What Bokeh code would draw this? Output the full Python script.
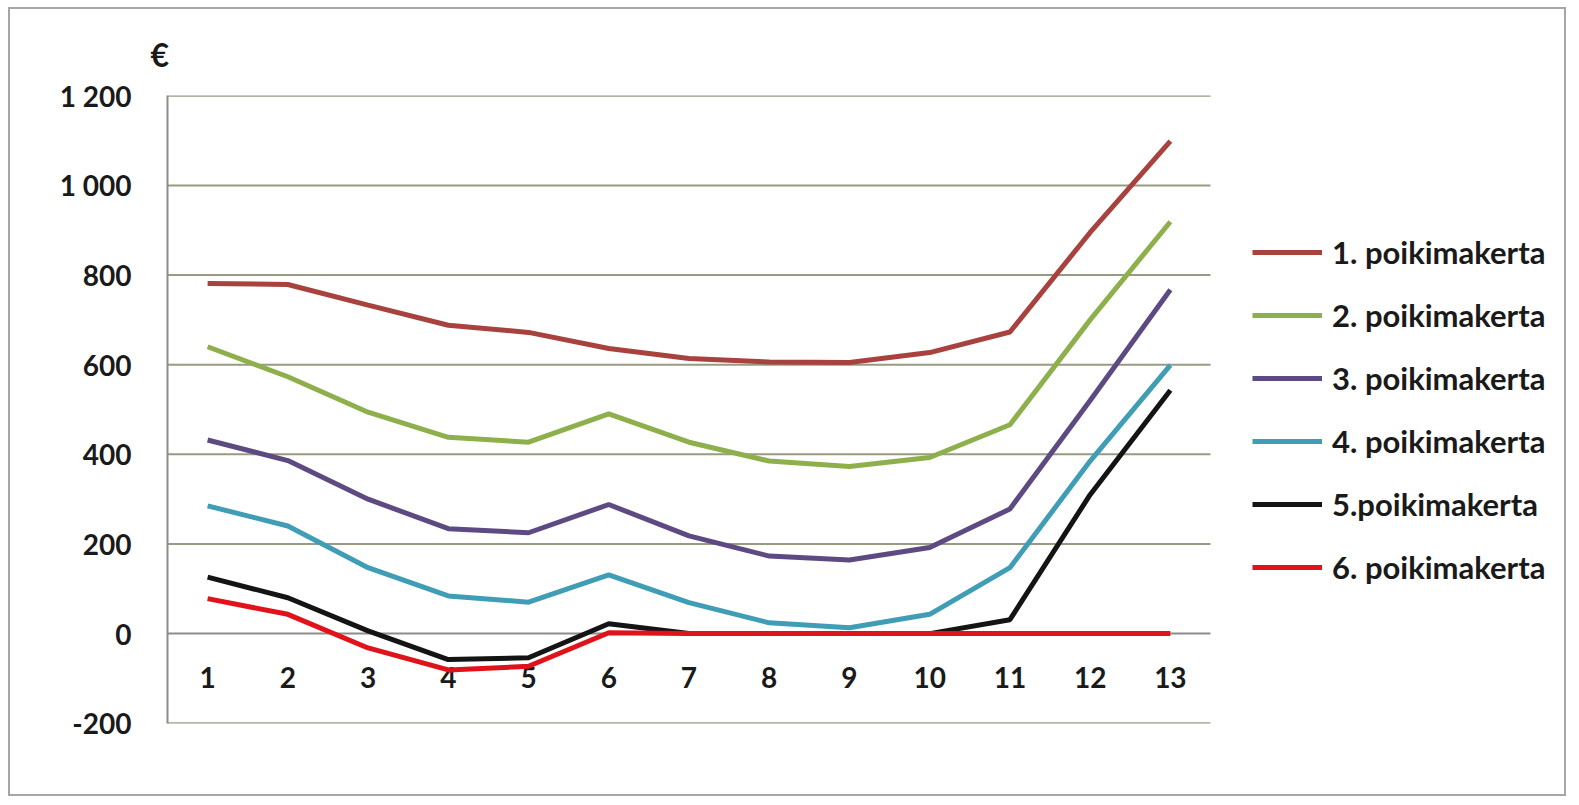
from bokeh.plotting import figure
from bokeh.models import Range1d, FixedTicker, Legend, LegendItem
from bokeh.embed import file_html
from bokeh.resources import INLINE

x = list(range(1, 14))
x_labels = [str(i) for i in x]
y_ticks = [-200, 0, 200, 400, 600, 800, 1000, 1200]
y_tick_labels = ["-200", "0", "200", "400", "600", "800", "1 000", "1 200"]

names = ["1. poikimakerta", "2. poikimakerta", "3. poikimakerta",
         "4. poikimakerta", "5.poikimakerta", "6. poikimakerta"]
s1 = [781, 779, 733, 688, 672, 636, 614, 606, 605, 627, 673, 895, 1099]
s2 = [640, 573, 494, 438, 427, 490, 427, 385, 373, 393, 466, 700, 919]
s3 = [432, 386, 300, 234, 225, 288, 218, 173, 164, 192, 278, 520, 767]
s4 = [285, 240, 147, 84, 70, 131, 69, 24, 13, 43, 147, 385, 599]
s5 = [126, 80, 6, -58, -54, 22, 0, 0, 0, 0, 31, 310, 543]
s6 = [78, 43, -32, -81, -73, 2, 0, 0, 0, 0, 0, 0, 0]
series = [s1, s2, s3, s4, s5, s6]
colors = ["#A7423F", "#8DB04C", "#5E4A82", "#3F9DB5", "#141414", "#E0131A"]

FONT = "Lato"

# layout (pixels)
W, H = 1558, 789
BORDER = 2
ML, MR, MT, MB = 157, 2, 86, 75
PLOT_W = 1040                      # width of the category area
frame_w = W - 2 * BORDER - ML - MR

n = len(x)
x_start = 0.5
x_end_cat = n + 0.5
x_end = x_start + n * frame_w / PLOT_W

p = figure(width=W, height=H, output_backend="svg", toolbar_location=None,
           x_range=Range1d(x_start, x_end), y_range=Range1d(-200.6, 1200.6),
           min_border_left=ML, min_border_right=MR, min_border_top=MT,
           min_border_bottom=MB, title="€")
p.styles = {"border": f"{BORDER}px solid #a6a6a6", "margin-left": "8px",
            "margin-top": "7px"}
p.outline_line_color = None
p.background_fill_color = "white"
p.border_fill_color = "white"

p.title.align = "left"
p.title.offset = -17
p.title.standoff = 44
p.title.text_font = FONT
p.title.text_font_size = "32px"
p.title.text_font_style = "bold"
p.title.text_color = "#1a1a1a"

# y axis
p.yaxis.ticker = FixedTicker(ticks=y_ticks)
p.yaxis.major_label_overrides = {t: l for t, l in zip(y_ticks, y_tick_labels)}
p.yaxis.major_tick_line_color = None
p.yaxis.minor_tick_line_color = None
p.yaxis.axis_line_color = "#8c8c8c"
p.yaxis.axis_line_width = 2
p.yaxis.major_label_standoff = 30
p.yaxis.major_label_text_font = FONT
p.yaxis.major_label_text_font_size = "28px"
p.yaxis.major_label_text_font_style = "bold"
p.yaxis.major_label_text_color = "#1a1a1a"

# x axis crossing at zero, limited to the category area
p.xaxis.fixed_location = 0
p.xaxis.bounds = (x_start, x_end_cat)
p.xaxis.ticker = FixedTicker(ticks=x)
p.xaxis.major_label_overrides = {i: l for i, l in zip(x, x_labels)}
p.xaxis.major_tick_line_color = None
p.xaxis.minor_tick_line_color = None
p.xaxis.axis_line_color = "#8c8c8c"
p.xaxis.axis_line_width = 2
p.xaxis.major_label_standoff = 27
p.xaxis.major_label_text_font = FONT
p.xaxis.major_label_text_font_size = "28px"
p.xaxis.major_label_text_font_style = "bold"
p.xaxis.major_label_text_color = "#1a1a1a"

p.xgrid.visible = False
p.ygrid.visible = False
# horizontal gridlines over the category area only
grid_y = [t for t in y_ticks if t != 0]
p.segment(x0=[x_start] * len(grid_y), x1=[x_end_cat] * len(grid_y),
          y0=grid_y, y1=grid_y, line_color="#9a9a82", line_width=2)

items = []
for name, ys, c in zip(names, series, colors):
    r = p.line(x, ys, line_color=c, line_width=5, level="overlay")
    items.append(LegendItem(label=name, renderers=[r]))

legend = Legend(items=items, location=(PLOT_W + 45, 136), orientation="vertical",
                label_text_font=FONT, label_text_font_size="31px",
                label_text_font_style="bold", label_text_color="#1a1a1a",
                glyph_width=70, glyph_height=40, label_height=40,
                label_standoff=10, spacing=23, padding=0, margin=0,
                border_line_color=None, background_fill_alpha=0)
p.add_layout(legend)

open("out.html", "w").write(file_html(p, INLINE))
